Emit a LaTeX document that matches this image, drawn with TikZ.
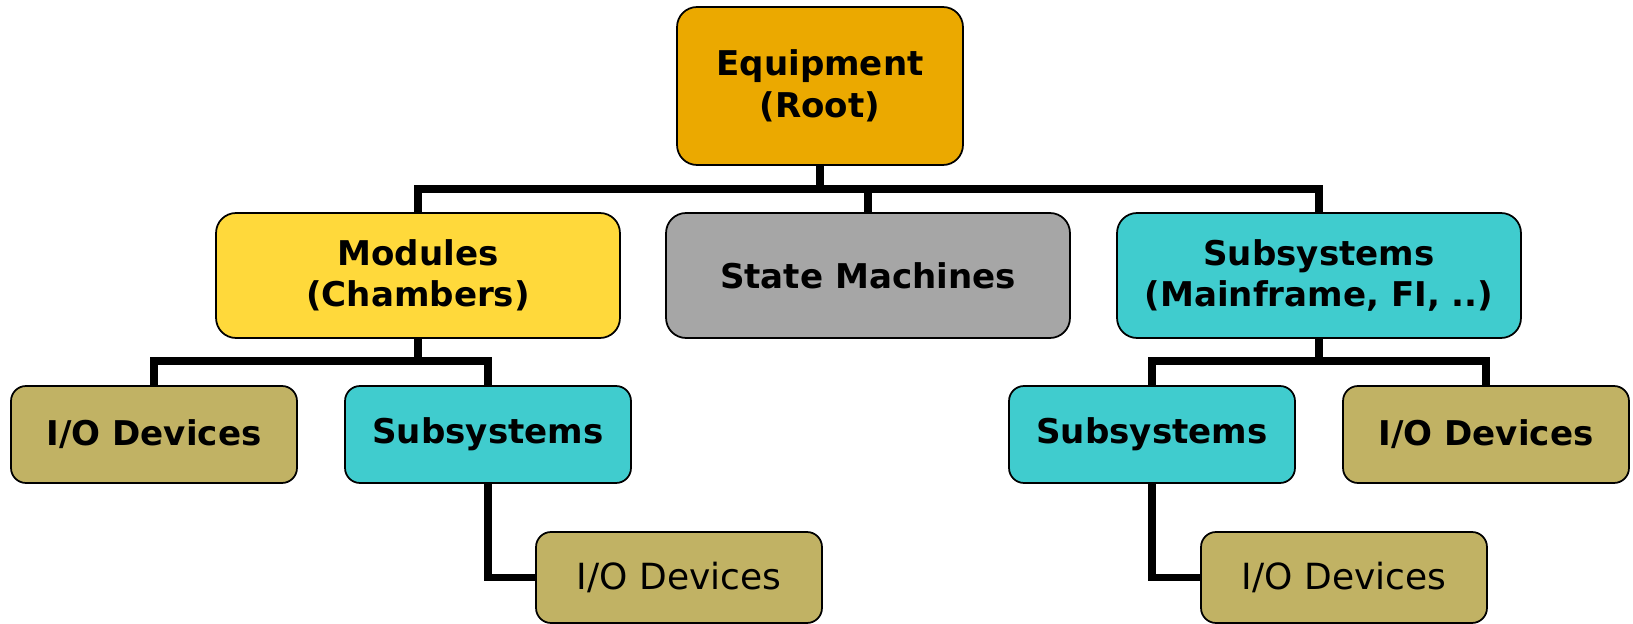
\documentclass[tikz,border=0pt]{standalone}
\usepackage{fontspec}
\setmainfont{DejaVu Sans}

\definecolor{rootfill}{HTML}{EBA900}
\definecolor{modfill}{HTML}{FFD93B}
\definecolor{smfill}{HTML}{A6A6A6}
\definecolor{subfill}{HTML}{40CCCE}
\definecolor{iofill}{HTML}{C1B264}

\tikzset{
  box/.style={draw, line width=1pt, rounded corners=0.4cm, align=center,
    inner sep=0pt, font=\bfseries\fontsize{19.4}{23.6}\selectfont},
  rootbox/.style={box, fill=rootfill, minimum width=5.72cm, minimum height=3.16cm},
  midbox/.style={box, minimum width=8.08cm, minimum height=2.5cm},
  leafbox/.style={box, rounded corners=0.3cm, minimum width=5.72cm, minimum height=1.94cm},
  lowbox/.style={leafbox, minimum height=1.82cm,
    font=\mdseries\fontsize{20.5}{24}\selectfont},
  link/.style={line width=4.2pt, line join=miter}
}

\begin{document}
\begin{tikzpicture}[x=0.02cm, y=-0.02cm]
%\draw[help lines, step=50] (0, 0) grid (1633, 624);
\useasboundingbox (0, 0) rectangle (1633, 624);

\pgfmathsetmacro\busGap{24};
\pgfmathsetmacro\midY{275.5};
\pgfmathsetmacro\leafY{434.5};
\pgfmathsetmacro\lowY{577.5};

% root
\node [rootbox] (root) at (820, 86) {Equipment\\(Root)};

% second row
\node [midbox, fill=modfill] (mod) at (418, \midY) {Modules\\(Chambers)};
\node [midbox, fill=smfill]  (sm)  at (868, \midY) {State Machines};
\node [midbox, fill=subfill] (sub) at (1319, \midY) {Subsystems\\(Mainframe, FI, ..)};

% third row
\node [leafbox, fill=iofill]  (ioA)  at (154, \leafY) {I/O Devices};
\node [leafbox, fill=subfill] (subA) at (488, \leafY) {Subsystems};
\node [leafbox, fill=subfill] (subB) at (1152, \leafY) {Subsystems};
\node [leafbox, fill=iofill]  (ioB)  at (1486, \leafY) {I/O Devices};

% bottom row
\node [lowbox, fill=iofill] (ioC) at (679, \lowY) {I/O Devices};
\node [lowbox, fill=iofill] (ioD) at (1344, \lowY) {I/O Devices};

% root bus
\draw [link]
  (mod.north) to ++(0, -23) coordinate (busTop) -| (sub.north);
\draw [link] (root.south) to (root.south |- busTop);
\draw [link] (sm.north) to (sm.north |- busTop);

% module bus
\draw [link]
  (ioA.north) to ++(0, -\busGap) coordinate (busMod) -| (subA.north);
\draw [link] (mod.south) to (mod.south |- busMod);

% subsystem bus
\draw [link]
  (subB.north) to ++(0, -\busGap) coordinate (busSub) -| (ioB.north);
\draw [link] (sub.south) to (sub.south |- busSub);

% elbows
\draw [link] (subA.south) |- (ioC.west);
\draw [link] (subB.south) |- (ioD.west);

\end{tikzpicture}
\end{document}
